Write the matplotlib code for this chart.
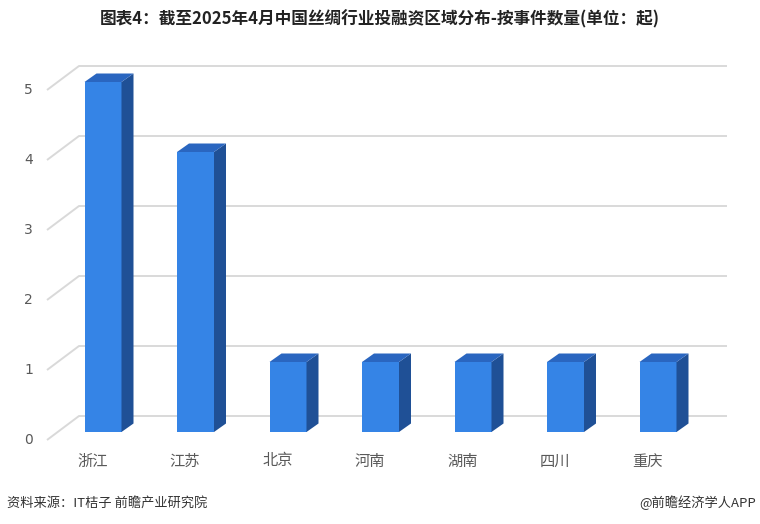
import numpy as np
import matplotlib.pyplot as plt
from matplotlib.patches import Polygon

plt.rcParams['font.family'] = ['Noto Sans CJK SC', 'DejaVu Sans']

# data
regions = ['浙江', '江苏', '北京', '河南', '湖南', '四川', '重庆']
counts = [5, 4, 1, 1, 1, 1, 1]
y_ticks = [0, 1, 2, 3, 4, 5]

title = '图表4：截至2025年4月中国丝绸行业投融资区域分布-按事件数量(单位：起)'
source = '资料来源：IT桔子 前瞻产业研究院'
credit = '@前瞻经济学人APP'

# colours
c_front = '#3584e6'
c_side = '#1f5096'
c_top = '#2a66c0'
c_grid = '#d9d9d9'
c_text = '#595959'

# layout in pixels
W, H = 760, 524
x0_px, step_px = 103, 92.5   # first bar centre, spacing
base_px, unit_px = 432, 70   # y of value 0 (from top), px per unit

fig = plt.figure(figsize=(W / 100, H / 100), dpi=100)
ax = fig.add_axes([0, 0, 1, 1])
ax.set_xlim(-x0_px / step_px, (W - x0_px) / step_px)
ax.set_ylim(-(H - base_px) / unit_px, base_px / unit_px)
ax.axis('off')


def px(dx, dy):
    # pixel offset -> data offset (dy positive = up)
    return dx / step_px, dy / unit_px


bar_w = 37 / step_px
side = px(12, 8.5)
back = px(21.3, 16)
front = px(-10.7, -8)
xl = (57.7 - x0_px) / step_px
xr = (705.7 - x0_px) / step_px

# walls / gridlines
for v in y_ticks:
    fx, fy = xl + front[0], v + front[1]
    bx, by = xl + back[0], v + back[1]
    ax.plot([fx, bx, xr + back[0]], [fy, by, by], color=c_grid, lw=1.4, zorder=1,
            solid_capstyle='butt')
    ax.text(fx - px(14, 0)[0], fy, str(v), ha='right', va='center',
            fontsize=10, color=c_text, family='DejaVu Sans')

# bars
x = np.arange(len(regions))
ax.bar(x, counts, width=bar_w, color=c_front, zorder=3)
for xi, v in zip(x, counts):
    r = xi + bar_w / 2
    l = xi - bar_w / 2
    ax.add_patch(Polygon([(r, 0), (r + side[0], side[1]), (r + side[0], v + side[1]), (r, v)],
                         closed=True, color=c_side, zorder=3, lw=0))
    ax.add_patch(Polygon([(l, v), (r, v), (r + side[0], v + side[1]), (l + side[0], v + side[1])],
                         closed=True, color=c_top, zorder=3, lw=0))

for xi, name in zip(x, regions):
    ax.text(xi + front[0], px(0, -29)[1], name, ha='center', va='center',
            fontsize=11, color=c_text)

fig.text(0.5, 1 - 19 / H, title, ha='center', va='center', fontsize=12,
         fontweight='bold', color='#222222')
fig.text(7 / W, 1 - 503 / H, source, ha='left', va='center', fontsize=9.5, color='#333333')
fig.text(1 - 4 / W, 1 - 503 / H, credit, ha='right', va='center', fontsize=9.5, color='#333333')

fig.savefig('out.png', dpi=100)
